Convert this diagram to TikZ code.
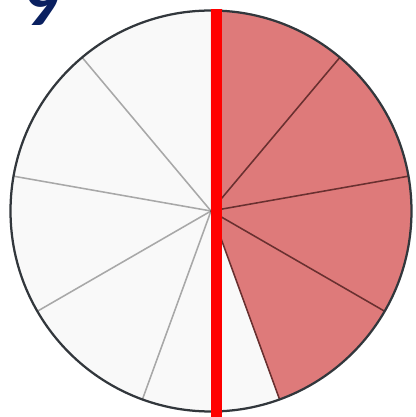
\documentclass[tikz,border=0pt]{standalone}
\usepackage{fontspec}
\setmainfont{Carlito}
\definecolor{slicered}{RGB}{222,122,122}
\definecolor{slicewhite}{RGB}{249,249,249}
\definecolor{darkrule}{RGB}{105,48,48}
\definecolor{lightrule}{RGB}{168,168,168}
\definecolor{rimgray}{RGB}{50,55,60}
\definecolor{navyblue}{RGB}{10,32,96}
\begin{document}
\begin{tikzpicture}[x=0.25mm, y=0.25mm,
    light/.style={draw=lightrule, line width=1.1pt},
    dark/.style={draw=darkrule, line width=1.1pt},
    rim/.style={draw=rimgray, line width=1.6pt},
    redbar/.style={draw=red, line width=8.2pt},
    digit/.style={text=navyblue, font=\bfseries\fontsize{50}{50}\selectfont, inner sep=0pt}
  ]
  \useasboundingbox (0,0) rectangle (416,417);
  \clip (0,0) rectangle (416,417);

  % centre of the pie and ends of the bar
  \coordinate (c) at (211,206);
  \coordinate (bartop) at (216.5,408);
  \coordinate (barbot) at (216.5,-2);

  % nine slices, four of them shaded
  \fill[slicewhite] (c) circle (200.5);
  \fill[slicered] (c) -- ++(90:200.5) arc (90:-70:200.5) -- cycle;
  \foreach \a in {130,170,-150,-110}
    \draw[light] (c) -- ++(\a:200.5);
  \foreach \a in {50,10,-30,-70}
    \draw[dark] (c) -- ++(\a:200.5);
  \draw[rim] (c) circle (200.5);

  % splitting bar
  \draw[redbar] (bartop) -- (barbot);

  % label
  \node[digit, anchor=base] (nine) at (42,391) {9};
\end{tikzpicture}
\end{document}
